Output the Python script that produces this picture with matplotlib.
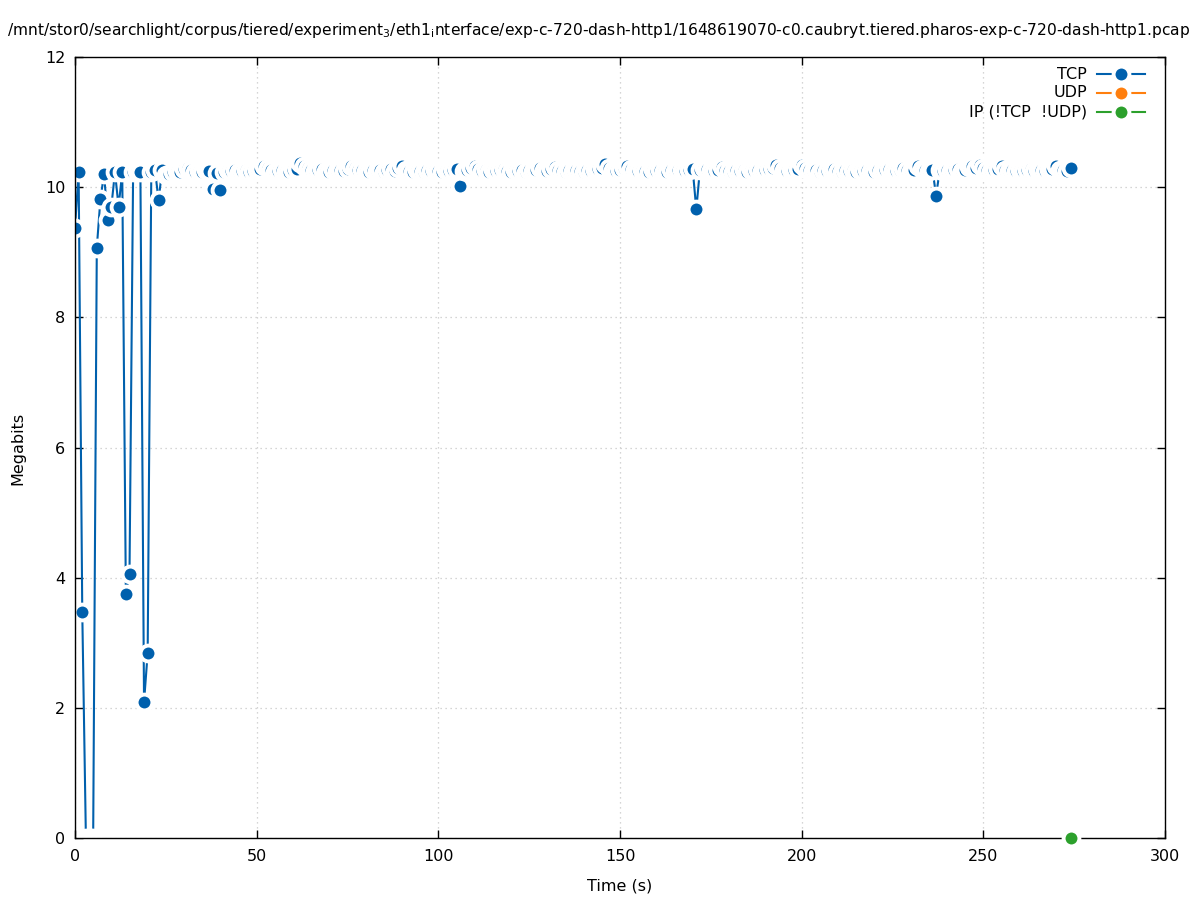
import matplotlib
matplotlib.use("Agg")
import matplotlib.pyplot as plt
import numpy as np

plt.rcParams['font.family'] = ['DejaVu Sans']
plt.rcParams['mathtext.fontset'] = 'dejavusans'

# ---- data ----
tcp_mbits = [
    9.38, 10.23, 3.47, 0, 0, 0, 9.07, 9.82, 10.20, 9.50,
    9.70, 10.23, 9.70, 10.23, 3.75, 4.06, 10.24, 10.25, 10.23, 2.09,
    2.84, 10.24, 10.27, 9.80, 10.27, 10.18, 10.20, 10.24, 10.25, 10.23,
    10.28, 10.30, 10.26, 10.24, 10.25, 10.23, 10.26, 10.25, 9.97, 10.22,
    9.96, 10.24, 10.26, 10.25, 10.27, 10.24, 10.25, 10.26, 10.24, 10.25,
    10.26, 10.28, 10.33, 10.30, 10.26, 10.24, 10.25, 10.27, 10.25, 10.24,
    10.26, 10.28, 10.37, 10.33, 10.29, 10.27, 10.25, 10.26, 10.28, 10.25,
    10.24, 10.26, 10.25, 10.27, 10.25, 10.28, 10.33, 10.30, 10.27, 10.26,
    10.25, 10.24, 10.26, 10.25, 10.27, 10.24, 10.26, 10.28, 10.25, 10.30,
    10.32, 10.27, 10.25, 10.24, 10.26, 10.25, 10.23, 10.26, 10.25, 10.27,
    10.25, 10.24, 10.26, 10.25, 10.27, 10.28, 10.02, 10.25, 10.27, 10.29,
    10.33, 10.28, 10.25, 10.26, 10.24, 10.27, 10.25, 10.26, 10.28, 10.25,
    10.24, 10.26, 10.25, 10.27, 10.24, 10.26, 10.25, 10.27, 10.29, 10.26,
    10.25, 10.28, 10.31, 10.27, 10.25, 10.24, 10.26, 10.25, 10.27, 10.25,
    10.24, 10.26, 10.25, 10.27, 10.28, 10.30, 10.35, 10.29, 10.26, 10.25,
    10.27, 10.29, 10.32, 10.28, 10.26, 10.25, 10.27, 10.25, 10.24, 10.26,
    10.25, 10.27, 10.25, 10.24, 10.26, 10.25, 10.27, 10.26, 10.25, 10.27,
    10.28, 9.66, 10.27, 10.30, 10.28, 10.26, 10.25, 10.27, 10.31, 10.27,
    10.25, 10.24, 10.26, 10.25, 10.27, 10.24, 10.26, 10.25, 10.27, 10.25,
    10.26, 10.28, 10.30, 10.34, 10.29, 10.26, 10.25, 10.27, 10.26, 10.28,
    10.34, 10.30, 10.27, 10.25, 10.26, 10.24, 10.27, 10.25, 10.26, 10.28,
    10.25, 10.24, 10.26, 10.25, 10.27, 10.24, 10.26, 10.25, 10.27, 10.25,
    10.24, 10.26, 10.25, 10.27, 10.28, 10.26, 10.25, 10.27, 10.30, 10.27,
    10.25, 10.26, 10.33, 10.28, 10.26, 10.25, 10.27, 9.87, 10.26, 10.25,
    10.27, 10.25, 10.26, 10.28, 10.25, 10.27, 10.31, 10.33, 10.30, 10.34,
    10.29, 10.26, 10.25, 10.27, 10.28, 10.32, 10.27, 10.25, 10.26, 10.25,
    10.27, 10.25, 10.26, 10.28, 10.25, 10.27, 10.26, 10.25, 10.27, 10.28,
    10.32, 10.27, 10.26, 10.25, 10.30,
]
tcp_seconds = list(range(len(tcp_mbits)))

udp_seconds = []
udp_mbits = []

ip_seconds = [274]
ip_mbits = [0.0]

series_names = ["TCP", "UDP", "IP (!TCP  !UDP)"]
series_colors = ["#0060ad", "#ff7f0e", "#2ca02c"]

x_ticks = [0, 50, 100, 150, 200, 250, 300]
y_ticks = [0, 2, 4, 6, 8, 10, 12]

title = (r"/mnt/stor0/searchlight/corpus/tiered/experiment$_3$/eth1$_\mathrm{i}$nterface/"
         r"exp-c-720-dash-http1/1648619070-c0.caubryt.tiered.pharos-exp-c-720-dash-http1.pcap")

# ---- style ----
MS = 11.4
MEW = 2.8
LW = 1.5
FS = 11.5

fig = plt.figure(figsize=(11.97, 9.0), dpi=100)
ax = fig.add_axes([75 / 1197, 1 - 838 / 900, 1090 / 1197, 781 / 900])

t = np.array(tcp_seconds, dtype=float)
v = np.array(tcp_mbits, dtype=float)
nz = v > 0

# TCP: line, then markers with white rim
ax.plot(t, v, color=series_colors[0], lw=LW, zorder=2)
ax.plot(t[nz], v[nz], linestyle='none', marker='o', ms=MS, mfc=series_colors[0],
        mec='white', mew=MEW, zorder=2.1)
ax.plot(t[~nz], v[~nz], linestyle='none', marker='o', ms=MS, mfc='white',
        mec='white', mew=MEW, zorder=2.1)

ax.plot(udp_seconds, udp_mbits, color=series_colors[1], lw=LW, marker='o', ms=MS,
        mfc=series_colors[1], mec='white', mew=MEW)
ax.plot(ip_seconds, ip_mbits, color=series_colors[2], lw=LW, marker='o', ms=MS,
        mfc=series_colors[2], mec='white', mew=MEW, clip_on=False, zorder=3)

ax.set_xlim(0, 300)
ax.set_ylim(0, 12)
ax.set_xticks(x_ticks)
ax.set_yticks(y_ticks)
ax.tick_params(direction='in', top=True, right=True, length=6, width=1,
               labelsize=FS, colors='black')
ax.tick_params(axis='x', pad=8)
ax.tick_params(axis='y', pad=7)
for s in ax.spines.values():
    s.set_linewidth(1)
    s.set_color('black')
ax.grid(True, color='#c8c8c8', linestyle=(0, (1, 3)), linewidth=0.9)
ax.set_axisbelow(True)

# legend drawn gnuplot-style (text right-aligned, sample to the right)
leg_y = [0.978, 0.954, 0.9296]
for name, col, yy in zip(series_names, series_colors, leg_y):
    ax.text(0.9284, yy, name, transform=ax.transAxes, ha='right', va='center',
            fontsize=FS)
    ax.plot([0.9376, 0.9817], [yy, yy], transform=ax.transAxes, color=col, lw=LW,
            clip_on=False)
    ax.plot([0.9596], [yy], transform=ax.transAxes, linestyle='none', marker='o',
            ms=MS, mfc=col, mec='white', mew=MEW, clip_on=False)

fig.text(0.5, 1 - 30 / 900, title, ha='center', va='center', fontsize=11.2)
fig.text(620 / 1197, 1 - 886 / 900, "Time (s)", ha='center', va='center', fontsize=FS)
fig.text(18 / 1197, 1 - 448 / 900, "Megabits", ha='center', va='center',
         rotation=90, fontsize=FS)

fig.savefig("out.png", dpi=100)
